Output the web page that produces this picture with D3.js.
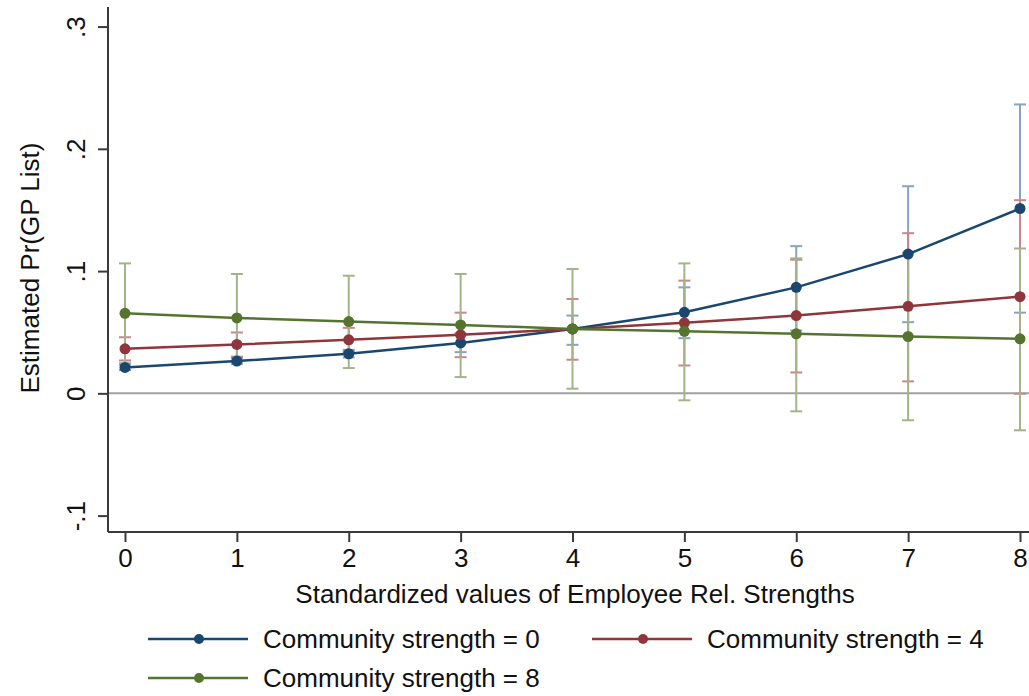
<!DOCTYPE html>
<html>
<head>
<meta charset="utf-8">
<script src="https://cdn.jsdelivr.net/npm/d3@7"></script>
<style>
  html, body { margin: 0; padding: 0; background: #fff; }
  svg { display: block; font-family: "Liberation Sans", Arial, sans-serif; }
</style>
</head>
<body>
<svg id="chart" width="1029" height="696"></svg>
<script>
// Standardized values of employee relation strengths (x axis)
const xValues = [0, 1, 2, 3, 4, 5, 6, 7, 8];

// Community strength = 0
const est0 = [0.0212, 0.0264, 0.0324, 0.0412, 0.0527, 0.0663, 0.0867, 0.1139, 0.1512];
const lo0  = [0.0190, 0.0240, 0.0294, 0.0337, 0.0397, 0.0451, 0.0514, 0.0582, 0.0660];
const hi0  = [0.0234, 0.0288, 0.0356, 0.0491, 0.0636, 0.0867, 0.1204, 0.1694, 0.2363];

// Community strength = 4
const est4 = [0.0364, 0.0400, 0.0438, 0.0479, 0.0527, 0.0577, 0.0636, 0.0712, 0.0791];
const lo4  = [0.0269, 0.0300, 0.0340, 0.0296, 0.0275, 0.0228, 0.0171, 0.0098, -0.0003];
const hi4  = [0.0459, 0.0498, 0.0536, 0.0660, 0.0772, 0.0922, 0.1093, 0.1310, 0.1580];

// Community strength = 8
const est8 = [0.0655, 0.0617, 0.0587, 0.0560, 0.0527, 0.0508, 0.0487, 0.0465, 0.0446];
const lo8  = [0.0247, 0.0258, 0.0207, 0.0133, 0.0038, -0.0057, -0.0147, -0.0220, -0.0302];
const hi8  = [0.1063, 0.0976, 0.0962, 0.0976, 0.1017, 0.1063, 0.1104, 0.1150, 0.1185];

const seriesLabels = ["Community strength = 0", "Community strength = 4", "Community strength = 8"];
const yTickValues = [-0.1, 0, 0.1, 0.2, 0.3];
const yTickLabels = ["-.1", "0", ".1", ".2", ".3"];
const xTickValues = [0, 1, 2, 3, 4, 5, 6, 7, 8];

const xTitle = "Standardized values of Employee Rel. Strengths";
const yTitle = "Estimated Pr(GP List)";

const lineColors = ["#1a476f", "#90353b", "#55752f"];
const barColors  = ["#86a2c4", "#c9868b", "#a4b488"];

const series = [
  { est: est0, lo: lo0, hi: hi0 },
  { est: est4, lo: lo4, hi: hi4 },
  { est: est8, lo: lo8, hi: hi8 }
];

const svg = d3.select("#chart");
const fontSize = 26;

const axisLeftX = 108;
const axisBottomY = 532;
const plotRight = 1029;

const x = d3.scaleLinear().domain([0, 8]).range([125, 1020]);
const y = d3.scaleLinear().domain([-0.1134, 0.316]).range([axisBottomY, 7]);

// zero reference line
svg.append("line")
  .attr("x1", axisLeftX).attr("x2", plotRight)
  .attr("y1", y(0)).attr("y2", y(0))
  .attr("stroke", "#a0a0a0").attr("stroke-width", 2);

// y axis
const yAxis = d3.axisLeft(y)
  .tickValues(yTickValues)
  .tickFormat((d, i) => yTickLabels[i])
  .tickSize(10);
const gy = svg.append("g")
  .attr("transform", `translate(${axisLeftX},0)`)
  .call(yAxis);
gy.select(".domain").attr("d", `M0,7V${axisBottomY}`).attr("stroke", "#3a3a3a").attr("stroke-width", 2);
gy.selectAll(".tick line").attr("stroke", "#3a3a3a").attr("stroke-width", 2);
gy.selectAll(".tick text")
  .attr("font-size", fontSize)
  .attr("fill", "#111")
  .attr("x", null).attr("dy", null)
  .attr("text-anchor", "middle")
  .attr("transform", "translate(-32,0) rotate(-90)")
  .attr("dominant-baseline", "central");

// x axis
const xAxis = d3.axisBottom(x)
  .tickValues(xTickValues)
  .tickFormat(d3.format("d"))
  .tickSize(10)
  .tickPadding(7);
const gx = svg.append("g")
  .attr("transform", `translate(0,${axisBottomY})`)
  .call(xAxis);
gx.select(".domain").attr("d", `M${axisLeftX},0H${plotRight}`).attr("stroke", "#3a3a3a").attr("stroke-width", 2);
gx.selectAll(".tick line").attr("stroke", "#3a3a3a").attr("stroke-width", 2);
gx.selectAll(".tick text").attr("font-size", fontSize).attr("fill", "#111");

// axis titles
svg.append("text")
  .attr("x", 575).attr("y", 603)
  .attr("text-anchor", "middle")
  .attr("font-size", fontSize).attr("fill", "#111")
  .text(xTitle);

svg.append("text")
  .attr("transform", "translate(39,268) rotate(-90)")
  .attr("text-anchor", "middle")
  .attr("font-size", fontSize).attr("fill", "#111")
  .text(yTitle);

// confidence interval caps
const capHalf = 6;
series.forEach((s, k) => {
  const g = svg.append("g").attr("stroke", barColors[k]).attr("stroke-width", 2).attr("fill", "none");
  xValues.forEach((xv, i) => {
    const cx = x(xv);
    g.append("line").attr("x1", cx).attr("x2", cx).attr("y1", y(s.lo[i])).attr("y2", y(s.hi[i]));
    g.append("line").attr("x1", cx - capHalf).attr("x2", cx + capHalf).attr("y1", y(s.lo[i])).attr("y2", y(s.lo[i]));
    g.append("line").attr("x1", cx - capHalf).attr("x2", cx + capHalf).attr("y1", y(s.hi[i])).attr("y2", y(s.hi[i]));
  });
});

// connected estimates
const line = d3.line().x((d, i) => x(xValues[i])).y(d => y(d));
series.forEach((s, k) => {
  svg.append("path")
    .datum(s.est)
    .attr("d", line)
    .attr("fill", "none")
    .attr("stroke", lineColors[k])
    .attr("stroke-width", 2.5);
  svg.append("g").selectAll("circle")
    .data(s.est)
    .join("circle")
    .attr("cx", (d, i) => x(xValues[i]))
    .attr("cy", d => y(d))
    .attr("r", 5.5)
    .attr("fill", lineColors[k]);
});

// legend
const legendItems = [
  { label: seriesLabels[0], color: lineColors[0], lx: 148, ly: 639 },
  { label: seriesLabels[1], color: lineColors[1], lx: 592, ly: 639 },
  { label: seriesLabels[2], color: lineColors[2], lx: 148, ly: 678 }
];
const legend = svg.append("g");
legendItems.forEach(it => {
  legend.append("line")
    .attr("x1", it.lx).attr("x2", it.lx + 100)
    .attr("y1", it.ly).attr("y2", it.ly)
    .attr("stroke", it.color).attr("stroke-width", 2.5);
  legend.append("circle")
    .attr("cx", it.lx + 51).attr("cy", it.ly).attr("r", 5)
    .attr("fill", it.color);
  legend.append("text")
    .attr("x", it.lx + 115).attr("y", it.ly)
    .attr("dominant-baseline", "central")
    .attr("font-size", fontSize).attr("fill", "#111")
    .text(it.label);
});
</script>
</body>
</html>
